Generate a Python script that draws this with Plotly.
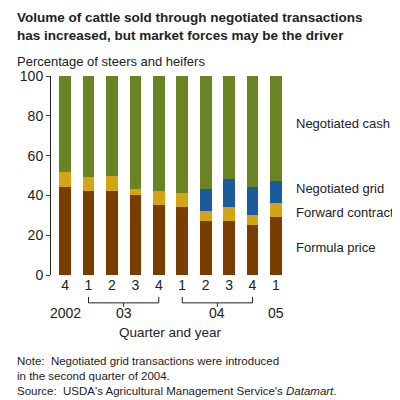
import plotly.graph_objects as go

quarters = ["4", "1", "2", "3", "4", "1", "2", "3", "4", "1"]
formula = [44, 42, 42, 40, 35, 34, 27, 27, 25, 29]
forward = [8, 7, 8, 3, 7, 7, 5, 7, 5, 7]
grid = [0, 0, 0, 0, 0, 0, 11, 14, 14, 11]
cash = [100 - a - b - c for a, b, c in zip(formula, forward, grid)]
series = [("Formula price", formula, "#7a3d00"), ("Forward contract", forward, "#d4a414"),
          ("Negotiated grid", grid, "#1a5b9c"), ("Negotiated cash", cash, "#6b8423")]
yticks = [0, 20, 40, 60, 80, 100]

xs = list(range(len(quarters)))
fig = go.Figure()
for name, vals, col in series:
    fig.add_bar(x=xs, y=vals, name=name, marker_color=col, marker_line_width=0, width=0.5)

fig.update_layout(
    width=400, height=400, barmode="stack", showlegend=False,
    plot_bgcolor="white", paper_bgcolor="white",
    margin=dict(l=38, r=118, t=68, b=133),
    font=dict(family="Liberation Sans, Arial", size=13, color="#222"),
    xaxis=dict(tickvals=xs, ticktext=quarters, range=[-0.6, 9.6], showline=False, ticks="",
               tickfont=dict(size=14)),
    yaxis=dict(range=[0, 100], tickvals=yticks, showgrid=False, showline=True, linecolor="#222",
               ticks="outside", ticklen=4, tickfont=dict(size=14)),
)
ann = [
    dict(text="<b>Volume of cattle sold through negotiated transactions<br>has increased, but market forces may be the driver</b>",
         x=0, y=1, xref="paper", yref="paper", xshift=-36, yshift=68, yanchor="top", xanchor="left", align="left", font=dict(size=13.5)),
    dict(text="Percentage of steers and heifers", x=0, y=1, xref="paper", yref="paper", xshift=-36, yshift=5,
         yanchor="bottom", xanchor="left", font=dict(size=13)),
    dict(text="Quarter and year", x=4.5, y=0, yref="paper", yshift=-48, yanchor="top", font=dict(size=13.5)),
    dict(text="2002", x=0, y=0, yref="paper", yshift=-28, yanchor="top", font=dict(size=14)),
    dict(text="03", x=2.5, y=0, yref="paper", yshift=-28, yanchor="top", font=dict(size=14)),
    dict(text="04", x=6.5, y=0, yref="paper", yshift=-28, yanchor="top", font=dict(size=14)),
    dict(text="05", x=9, y=0, yref="paper", yshift=-28, yanchor="top", font=dict(size=14)),
    dict(text="Note:  Negotiated grid transactions were introduced<br>in the second quarter of 2004.<br>Source:  USDA's Agricultural Management Service's <i>Datamart</i>.",
         x=0, y=0, xref="paper", yref="paper", xshift=-36, yshift=-78, yanchor="top", xanchor="left", align="left", font=dict(size=11.5)),
]
for lbl, yv in [("Negotiated cash", 76), ("Negotiated grid", 43.5), ("Forward contract", 31.5), ("Formula price", 14)]:
    ann.append(dict(text=lbl, x=1, y=yv, xref="paper", xshift=4, xanchor="left", showarrow=False, font=dict(size=13)))
for a in ann:
    a.setdefault("showarrow", False)
fig.update_layout(annotations=ann)
for x0, x1 in [(1, 4), (5, 8)]:
    fig.add_shape(type="path", xref="x", yref="paper",
                  path=f"M {x0},-0.11 L {x0},-0.14 L {x1},-0.14 L {x1},-0.11", line=dict(color="#222", width=1))
    fig.add_shape(type="line", xref="x", yref="paper", x0=(x0+x1)/2, x1=(x0+x1)/2, y0=-0.14, y1=-0.16,
                  line=dict(color="#222", width=1))
fig.write_html("out.html")
